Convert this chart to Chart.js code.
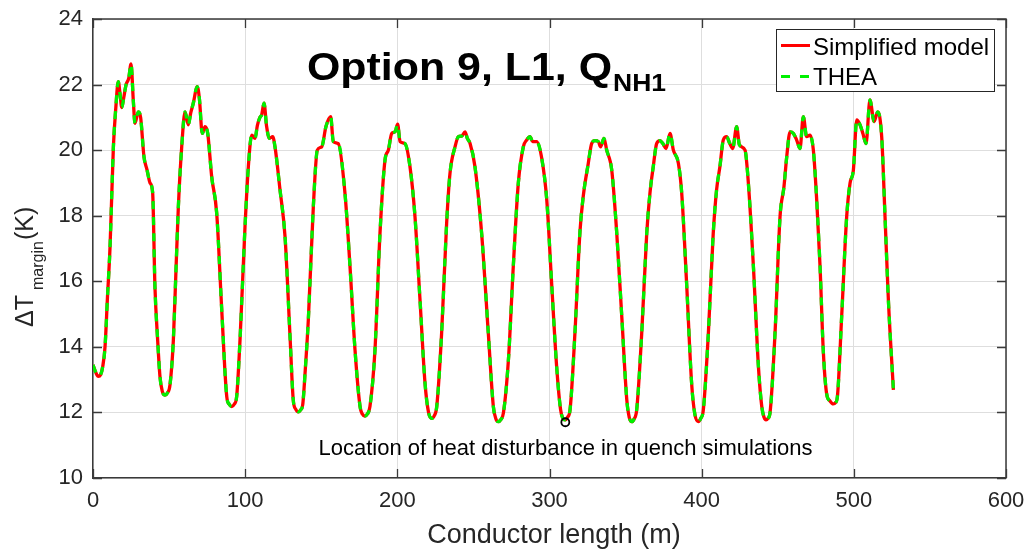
<!DOCTYPE html>
<html>
<head>
<meta charset="utf-8">
<script src="https://cdn.jsdelivr.net/npm/chart.js@4.4.1/dist/chart.umd.min.js"></script>
<style>
  html, body { margin: 0; padding: 0; background: #ffffff; }
  #wrap { width: 1025px; height: 549px; position: relative; }
</style>
</head>
<body>
<div id="wrap"><canvas id="c" width="1025" height="549"></canvas></div>
<script>
// ---- Data ----
const conductorLength = [
  0, 2, 3.5, 5, 6.4, 7.9, 9.5, 11.2, 13.4, 15, 16.6, 17.8, 18.9, 20.2, 21.7, 23.5, 25, 26.5, 27.6, 29.8,
  31.3, 33.5, 35.5, 37.5, 39.2, 40.7, 42.5, 44, 45.5, 47.3, 49, 50.6, 52.8, 54.5, 56.1, 58.3, 60.5, 62.6, 64.3, 65.9,
  68.5, 69.9, 71.8, 73.6, 75.4, 78, 81.3, 84.6, 87.9, 89.5, 91.2, 92.8, 94.4, 96.6, 99.9, 102.1, 104.3, 106.5, 108, 109.7,
  110.8, 112.4, 114.1, 115.9, 118.1, 119.6, 122.9, 126.2, 129.5, 131.6, 133.2, 134.9, 136.5, 137.8, 139.5, 141.5, 144.8, 147.4, 150.3, 153.1,
  156.2, 157.9, 161.2, 165.6, 168.9, 172.2, 175.5, 177, 178.7, 180.3, 182, 185.3, 188.6, 191.9, 194.1, 196.3, 198.5, 200.2, 201.8, 205,
  208.3, 211.6, 214.9, 218.2, 220.5, 222.6, 224.3, 225.9, 229.1, 232.4, 234.6, 237.9, 240.1, 242.3, 244.5, 246, 247.8, 251, 255.4, 259.8,
  263.1, 264.8, 266.4, 268, 269.7, 273, 276.2, 279.5, 282.8, 285, 287.2, 288.9, 291.6, 294.9, 298.2, 301.4, 304.7, 307.3, 308.8, 310.2,
  311.8, 313.5, 316.7, 320, 322.2, 325.5, 327.7, 329.9, 332.1, 333.6, 335.8, 337.6, 340.9, 344.2, 347.5, 350.8, 352.4, 354, 355.6, 357.3,
  360.6, 363.9, 366, 368.2, 370.4, 372.6, 374.5, 376.6, 379.2, 381.4, 384.7, 386.9, 390.1, 393.4, 395.5, 397.8, 399.4, 401.1, 404.4, 407.6,
  409.8, 412, 414.2, 416.4, 418.5, 420.4, 423, 424.8, 428.5, 430.7, 434, 437.3, 439.5, 441, 442.3, 443.6, 444.9, 448.2, 451.5, 454.1,
  455.9, 458.1, 460.3, 462.5, 464.6, 466.8, 469, 471.2, 473.4, 475.6, 477.8, 479.9, 482.1, 484.3, 486.5, 488, 489.2, 492, 495.3, 497.5,
  499.7, 501.9, 504.1, 506, 508, 510.6, 513.3, 515.7, 518.3, 520.5, 522.7, 526
];
const simplifiedModel = [
  13.45, 13.2, 13.1, 13.15, 13.4, 14.0, 15.5, 17.05, 20.1, 21.3, 22.09, 21.7, 21.3, 21.6, 21.99, 22.2, 22.63, 21.5, 20.82, 21.17,
  21.0, 19.8, 19.4, 19.0, 18.7, 15.84, 14.2, 13.1, 12.65, 12.53, 12.6, 12.84, 14.2, 16.3, 18.28, 20.1, 21.17, 20.77, 21.15, 21.43,
  21.94, 21.58, 20.51, 20.72, 20.51, 19.19, 18.07, 15.13, 12.48, 12.25, 12.18, 12.25, 12.48, 14.2, 17.67, 19.5, 20.46, 20.36, 20.75, 21.0,
  21.07, 21.43, 20.72, 20.36, 20.41, 20.1, 18.79, 17.36, 14.3, 12.38, 12.1, 12.02, 12.08, 12.23, 13.3, 14.82, 18.28, 20.0, 20.1, 20.72,
  21.02, 20.26, 20.2, 18.68, 16.45, 13.9, 12.18, 11.95, 11.89, 11.95, 12.18, 13.9, 17.46, 19.7, 20.0, 20.51, 20.56, 20.79, 20.26, 20.2,
  19.5, 17.97, 15.43, 12.89, 12.0, 11.82, 11.9, 12.18, 14.41, 17.77, 19.29, 20.1, 20.41, 20.43, 20.56, 20.36, 20.2, 19.5, 17.46, 14.41,
  12.18, 11.8, 11.72, 11.78, 11.98, 13.6, 16.45, 18.99, 20.1, 20.31, 20.41, 20.26, 20.26, 19.75, 18.48, 15.94, 13.4, 12.08, 11.82, 11.77,
  11.85, 12.08, 14.41, 17.5, 18.6, 19.6, 20.2, 20.29, 20.26, 20.1, 20.36, 20.0, 19.39, 17.46, 14.92, 12.38, 11.85, 11.72, 11.8, 12.08,
  14.41, 17.46, 18.68, 19.5, 20.2, 20.29, 20.2, 20.05, 20.51, 20.0, 19.6, 18.68, 15.94, 12.89, 11.95, 11.72, 11.82, 12.08, 14.41, 17.46,
  18.79, 19.5, 20.31, 20.41, 20.2, 20.05, 20.72, 20.16, 20.0, 18.99, 16.45, 13.4, 12.18, 11.85, 11.77, 11.82, 11.98, 14.41, 17.97, 18.89,
  19.8, 20.56, 20.51, 20.3, 20.05, 21.02, 20.41, 20.46, 20.0, 18.48, 16.45, 13.9, 12.58, 12.35, 12.26, 12.3, 12.48, 14.92, 17.97, 18.99,
  19.39, 20.92, 20.77, 20.5, 20.2, 21.53, 20.87, 21.17, 20.41, 17.97, 15.43, 12.69
];
const thea = [
  13.45, 13.2, 13.1, 13.15, 13.4, 14.0, 15.5, 17.05, 20.1, 21.3, 22.09, 21.7, 21.3, 21.6, 21.99, 22.2, 22.63, 21.5, 20.82, 21.17,
  21.0, 19.8, 19.4, 19.0, 18.7, 15.84, 14.2, 13.1, 12.65, 12.53, 12.6, 12.84, 14.2, 16.3, 18.28, 20.1, 21.17, 20.77, 21.15, 21.43,
  21.94, 21.58, 20.51, 20.72, 20.51, 19.19, 18.07, 15.13, 12.48, 12.25, 12.18, 12.25, 12.48, 14.2, 17.67, 19.5, 20.46, 20.36, 20.75, 21.0,
  21.07, 21.43, 20.72, 20.36, 20.41, 20.1, 18.79, 17.36, 14.3, 12.38, 12.1, 12.02, 12.08, 12.23, 13.3, 14.82, 18.28, 20.0, 20.1, 20.72,
  21.02, 20.26, 20.2, 18.68, 16.45, 13.9, 12.18, 11.95, 11.89, 11.95, 12.18, 13.9, 17.46, 19.7, 20.0, 20.51, 20.56, 20.79, 20.26, 20.2,
  19.5, 17.97, 15.43, 12.89, 12.0, 11.82, 11.9, 12.18, 14.41, 17.77, 19.29, 20.1, 20.41, 20.43, 20.56, 20.36, 20.2, 19.5, 17.46, 14.41,
  12.18, 11.8, 11.72, 11.78, 11.98, 13.6, 16.45, 18.99, 20.1, 20.31, 20.41, 20.26, 20.26, 19.75, 18.48, 15.94, 13.4, 12.08, 11.82, 11.77,
  11.85, 12.08, 14.41, 17.5, 18.6, 19.6, 20.2, 20.29, 20.26, 20.1, 20.36, 20.0, 19.39, 17.46, 14.92, 12.38, 11.85, 11.72, 11.8, 12.08,
  14.41, 17.46, 18.68, 19.5, 20.2, 20.29, 20.2, 20.05, 20.51, 20.0, 19.6, 18.68, 15.94, 12.89, 11.95, 11.72, 11.82, 12.08, 14.41, 17.46,
  18.79, 19.5, 20.31, 20.41, 20.2, 20.05, 20.72, 20.16, 20.0, 18.99, 16.45, 13.4, 12.18, 11.85, 11.77, 11.82, 11.98, 14.41, 17.97, 18.89,
  19.8, 20.56, 20.51, 20.3, 20.05, 21.02, 20.41, 20.46, 20.0, 18.48, 16.45, 13.9, 12.58, 12.35, 12.26, 12.3, 12.48, 14.92, 17.97, 18.99,
  19.39, 20.92, 20.77, 20.5, 20.2, 21.53, 20.87, 21.17, 20.41, 17.97, 15.43, 12.69
];
const disturbanceX = [310.4];
const disturbanceY = [11.7];
const xTicks = [0, 100, 200, 300, 400, 500, 600];
const yTicks = [10, 12, 14, 16, 18, 20, 22, 24];
const seriesLabels = ['Simplified model', 'THEA'];

// ---- Build chart ----
const toPts = (xs, ys) => xs.map((x, i) => ({ x: x, y: ys[i] }));
const AXIS = '#3a3a3a';
const FONT = '"Liberation Sans", Arial, Helvetica, sans-serif';

const overlay = {
  id: 'overlay',
  afterDraw(chart) {
    const ctx = chart.ctx;
    const a = chart.chartArea;
    const xs = chart.scales.x, ys = chart.scales.y;
    ctx.save();
    // box: top and right edges
    ctx.strokeStyle = AXIS;
    ctx.lineWidth = 1.5;
    ctx.beginPath();
    ctx.moveTo(a.left, a.top); ctx.lineTo(a.right, a.top); ctx.lineTo(a.right, a.bottom);
    ctx.stroke();
    // inward ticks
    ctx.lineWidth = 1.3;
    ctx.beginPath();
    xTicks.forEach(v => {
      const px = Math.round(xs.getPixelForValue(v)) + 0.5;
      ctx.moveTo(px, a.bottom); ctx.lineTo(px, a.bottom - 9);
      ctx.moveTo(px, a.top); ctx.lineTo(px, a.top + 9);
    });
    yTicks.forEach(v => {
      const py = Math.round(ys.getPixelForValue(v)) + 0.5;
      ctx.moveTo(a.left, py); ctx.lineTo(a.left + 9, py);
      ctx.moveTo(a.right, py); ctx.lineTo(a.right - 9, py);
    });
    ctx.stroke();

    // title
    ctx.fillStyle = '#000000';
    ctx.textBaseline = 'alphabetic';
    ctx.textAlign = 'left';
    const mainT = 'Option 9, L1, Q';
    ctx.font = 'bold 38px ' + FONT;
    let w = ctx.measureText(mainT).width;
    const tx = 307, tW = 305;
    ctx.save(); ctx.translate(tx, 80); ctx.scale(tW / w, 1); ctx.fillText(mainT, 0, 0); ctx.restore();
    ctx.font = 'bold 24px ' + FONT;
    w = ctx.measureText('NH1').width;
    ctx.save(); ctx.translate(tx + tW + 1, 91); ctx.scale(53 / w, 1); ctx.fillText('NH1', 0, 0); ctx.restore();

    // annotation
    ctx.font = '22px ' + FONT;
    ctx.textAlign = 'center';
    ctx.fillStyle = '#000000';
    ctx.fillText('Location of heat disturbance in quench simulations', 565.5, 455);

    // x axis title
    ctx.fillStyle = '#262626';
    ctx.font = '27px ' + FONT;
    ctx.fillText('Conductor length (m)', 554, 543);

    // y axis title (rotated)
    ctx.save();
    ctx.translate(33, 327);
    ctx.rotate(-Math.PI / 2);
    ctx.textAlign = 'left';
    ctx.fillStyle = '#262626';
    ctx.font = '25px ' + FONT;
    ctx.fillText('\u0394T', 0, 0);
    ctx.font = '16px ' + FONT;
    ctx.fillText('margin', 37, 10);
    ctx.font = '25px ' + FONT;
    ctx.fillText('(K)', 87, 0);
    ctx.restore();

    // legend
    const lx = 776.5, ly = 29.5, lw = 218, lh = 62;
    ctx.fillStyle = '#ffffff';
    ctx.fillRect(lx, ly, lw, lh);
    ctx.strokeStyle = '#262626';
    ctx.lineWidth = 1;
    ctx.strokeRect(lx, ly, lw, lh);
    const ds = chart.data.datasets;
    const rows = [
      { d: ds.find(d => d.label === seriesLabels[0]), y: 45.5, ty: 55 },
      { d: ds.find(d => d.label === seriesLabels[1]), y: 76.5, ty: 85 }
    ];
    rows.forEach(r => {
      ctx.save();
      ctx.strokeStyle = r.d.borderColor;
      ctx.lineWidth = 3;
      ctx.setLineDash(r.d.borderDash && r.d.borderDash.length ? [9, 10] : []);
      ctx.beginPath(); ctx.moveTo(781, r.y); ctx.lineTo(810, r.y); ctx.stroke();
      ctx.restore();
      ctx.fillStyle = '#000000';
      ctx.font = '24px ' + FONT;
      ctx.textAlign = 'left';
      ctx.fillText(r.d.label, 813, r.ty);
    });
    ctx.restore();
  }
};

new Chart(document.getElementById('c'), {
  type: 'line',
  data: {
    datasets: [
      {
        label: seriesLabels[1],
        data: toPts(conductorLength, thea),
        borderColor: '#00f000',
        borderWidth: 3.3,
        borderDash: [8, 8],
        pointRadius: 0,
        cubicInterpolationMode: 'monotone',
        fill: false,
        order: 1
      },
      {
        label: seriesLabels[0],
        data: toPts(conductorLength, simplifiedModel),
        borderColor: '#ff0000',
        borderWidth: 3.3,
        pointRadius: 0,
        cubicInterpolationMode: 'monotone',
        fill: false,
        order: 2
      },
      {
        label: 'disturbance',
        type: 'scatter',
        data: toPts(disturbanceX, disturbanceY),
        pointRadius: 4,
        pointBorderWidth: 1.8,
        pointBorderColor: '#000000',
        pointBackgroundColor: 'rgba(0,0,0,0)',
        showLine: false,
        order: 0
      }
    ]
  },
  options: {
    responsive: false,
    animation: false,
    devicePixelRatio: 1,
    layout: { padding: { top: 19, right: 19, left: 0, bottom: 0 } },
    plugins: { legend: { display: false }, tooltip: { enabled: false }, title: { display: false } },
    scales: {
      x: {
        type: 'linear',
        min: 0, max: 600,
        afterBuildTicks: s => { s.ticks = xTicks.map(v => ({ value: v })); },
        afterFit: s => { s.height = 71; s.paddingLeft = 0; s.paddingRight = 0; s.paddingTop = 0; s.paddingBottom = 0; },
        ticks: { color: '#262626', font: { family: FONT, size: 22 }, padding: 10, maxRotation: 0 },
        grid: { color: '#dedede', lineWidth: 1, drawTicks: false },
        border: { display: true, color: AXIS, width: 1.5 }
      },
      y: {
        type: 'linear',
        min: 10, max: 24,
        afterBuildTicks: s => { s.ticks = yTicks.map(v => ({ value: v })); },
        afterFit: s => { s.width = 93; s.paddingLeft = 0; s.paddingRight = 0; s.paddingTop = 0; s.paddingBottom = 0; },
        ticks: { color: '#262626', font: { family: FONT, size: 22 }, padding: 10 },
        grid: { color: '#dedede', lineWidth: 1, drawTicks: false },
        border: { display: true, color: AXIS, width: 1.5 }
      }
    }
  },
  plugins: [overlay]
});
</script>
</body>
</html>
